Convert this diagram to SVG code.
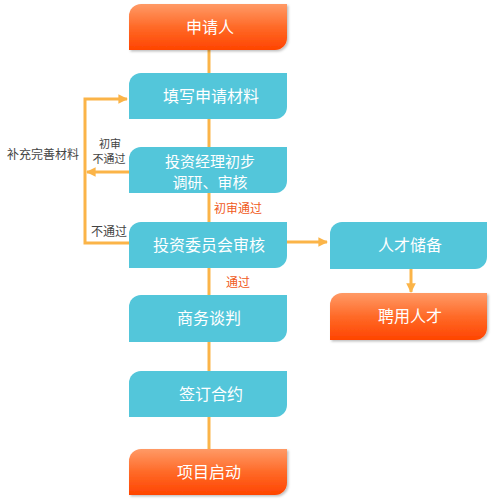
<svg xmlns="http://www.w3.org/2000/svg" width="494" height="502" viewBox="0 0 494 502">
<defs>
<linearGradient id="og" x1="0" y1="0" x2="0" y2="1">
<stop offset="0" stop-color="#ff9a66"/>
<stop offset="0.5" stop-color="#ff6a28"/>
<stop offset="1" stop-color="#ff4400"/>
</linearGradient>
<filter id="sh" x="-10%" y="-10%" width="120%" height="130%">
<feDropShadow dx="1.5" dy="1.5" stdDeviation="1.2" flood-color="#000" flood-opacity="0.25"/>
</filter>
<marker id="ah" viewBox="0 0 10 10" refX="9" refY="5" markerWidth="3.2" markerHeight="3.2" orient="auto" markerUnits="strokeWidth">
<path d="M0,0 L10,5 L0,10 z" fill="#fbb448"/>
</marker>
</defs>
<style>
.blue{fill:#53c6da}
.orange{fill:url(#og);filter:url(#sh)}
.bt{font-family:"Noto Sans CJK SC","Liberation Sans",sans-serif;font-size:16px;fill:#fff;text-anchor:middle}
.bt2{font-family:"Noto Sans CJK SC","Liberation Sans",sans-serif;font-size:15px;fill:#fff;text-anchor:middle}
.lb{font-family:"Noto Sans CJK SC","Liberation Sans",sans-serif;font-size:12px;fill:#444;text-anchor:middle}
.lb2{font-family:"Noto Sans CJK SC","Liberation Sans",sans-serif;font-size:11px;fill:#444;text-anchor:middle}
.lr{font-family:"Noto Sans CJK SC","Liberation Sans",sans-serif;font-size:12px;fill:#f05a22;text-anchor:middle}
.ln{fill:none;stroke:#fbb448;stroke-width:3}
</style>
<g id="connectors">
<line class="ln" x1="209" y1="50" x2="209" y2="73"/>
<line class="ln" x1="209" y1="119" x2="209" y2="147"/>
<line class="ln" x1="209" y1="193" x2="209" y2="222"/>
<line class="ln" x1="209" y1="268" x2="209" y2="295"/>
<line class="ln" x1="209" y1="342" x2="209" y2="371"/>
<line class="ln" x1="209" y1="417" x2="209" y2="449"/>
<polyline class="ln" points="129,243 85,243 85,99 127,99" marker-end="url(#ah)"/>
<line class="ln" x1="129" y1="172" x2="87" y2="172" marker-end="url(#ah)"/>
<line class="ln" x1="287" y1="242" x2="327" y2="242" marker-end="url(#ah)"/>
<line class="ln" x1="411" y1="269" x2="411" y2="292" marker-end="url(#ah)"/>
<text class="lb" x="43" y="159">补充完善材料</text>
<text class="lb2" x="110" y="148">初审</text>
<text class="lb2" x="109" y="163">不通过</text>
<text class="lb" x="109" y="236">不通过</text>
<text class="lr" x="238" y="213">初审通过</text>
<text class="lr" x="238" y="287">通过</text>
</g>
<g id="n1"><path class="orange" d="M141,4 H287 V38 A12,12 0 0 1 275,50 H129 V16 A12,12 0 0 1 141,4 Z"/><text class="bt" x="210" y="33">申请人</text></g>
<g id="n2"><path class="blue" d="M141,73 H287 V107 A12,12 0 0 1 275,119 H129 V85 A12,12 0 0 1 141,73 Z"/><text class="bt" x="211" y="102">填写申请材料</text></g>
<g id="n3"><path class="blue" d="M141,147 H287 V181 A12,12 0 0 1 275,193 H129 V159 A12,12 0 0 1 141,147 Z"/><text class="bt2" x="210" y="167">投资经理初步</text><text class="bt2" x="210" y="188">调研、审核</text></g>
<g id="n4"><path class="blue" d="M141,222 H287 V256 A12,12 0 0 1 275,268 H129 V234 A12,12 0 0 1 141,222 Z"/><text class="bt" x="209" y="251">投资委员会审核</text></g>
<g id="n5"><path class="blue" d="M141,295 H287 V330 A12,12 0 0 1 275,342 H129 V307 A12,12 0 0 1 141,295 Z"/><text class="bt" x="209" y="324">商务谈判</text></g>
<g id="n6"><path class="blue" d="M141,371 H287 V405 A12,12 0 0 1 275,417 H129 V383 A12,12 0 0 1 141,371 Z"/><text class="bt" x="211" y="400">签订合约</text></g>
<g id="n7"><path class="orange" d="M141,449 H287 V483 A12,12 0 0 1 275,495 H129 V461 A12,12 0 0 1 141,449 Z"/><text class="bt" x="209" y="478">项目启动</text></g>
<g id="n8"><path class="blue" d="M342,222 H487 V257 A12,12 0 0 1 475,269 H330 V234 A12,12 0 0 1 342,222 Z"/><text class="bt" x="410" y="251">人才储备</text></g>
<g id="n9"><path class="orange" d="M342,293 H487 V328 A12,12 0 0 1 475,340 H330 V305 A12,12 0 0 1 342,293 Z"/><text class="bt" x="410" y="322">聘用人才</text></g>
</svg>
